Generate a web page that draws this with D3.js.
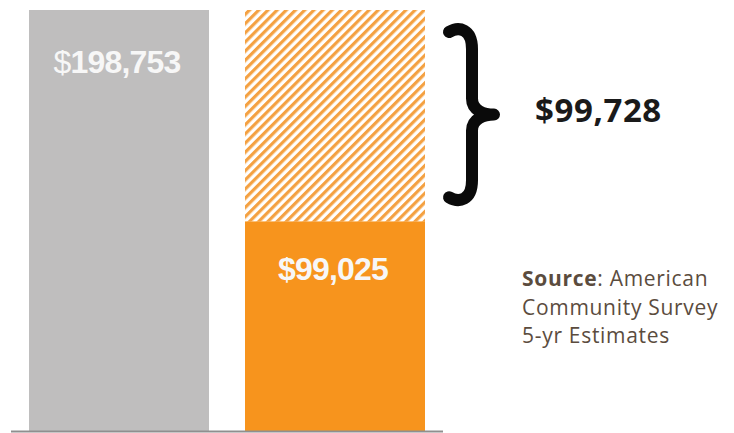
<!DOCTYPE html>
<html>
<head>
<meta charset="utf-8">
<script src="https://cdn.jsdelivr.net/npm/d3@7"></script>
<style>
  html, body { margin: 0; padding: 0; background: #fff; }
  svg { display: block; }
</style>
</head>
<body>
<svg id="chart" width="734" height="433"></svg>
<script>
// Median values, in dollars
const categories = ["Total", "Earned"];
const baseValues = [198753, 99025];
const gapValues = [0, 99728];
const valueLabels = ["198,753", "99,025"];
const gapLabel = "$99,728";
const sourceLines = [["Source", ": American"], ["", "Community Survey"], ["", "5-yr Estimates"]];

const svg = d3.select("#chart");

const x = d3.scaleBand().domain(categories).range([29, 425]).paddingInner(1 / 6).paddingOuter(0);
const y = d3.scaleLinear().domain([0, 198753]).range([431, 10]);

// diagonal hatch for the gap segment
const defs = svg.append("defs");
const pat = defs.append("pattern")
  .attr("id", "hatch")
  .attr("patternUnits", "userSpaceOnUse")
  .attr("width", 6.5).attr("height", 6.5)
  .attr("patternTransform", "rotate(45)");
pat.append("rect").attr("width", 6.5).attr("height", 6.5).attr("fill", "#fff");
pat.append("rect").attr("x", 0).attr("width", 3.2).attr("height", 6.5).attr("fill", "#f4a142");

const colors = ["#bfbebe", "#f7941d"];

// solid bars
svg.append("g").selectAll("rect")
  .data(categories)
  .join("rect")
  .attr("x", d => x(d))
  .attr("width", x.bandwidth())
  .attr("y", (d, i) => y(baseValues[i]))
  .attr("height", (d, i) => y(0) - y(baseValues[i]))
  .attr("fill", (d, i) => colors[i]);

// hatched gap segment stacked on top
svg.append("g").selectAll("rect")
  .data(categories.filter((d, i) => gapValues[i] > 0))
  .join("rect")
  .attr("x", d => x(d))
  .attr("width", x.bandwidth())
  .attr("y", d => { const i = categories.indexOf(d); return y(baseValues[i] + gapValues[i]); })
  .attr("height", d => { const i = categories.indexOf(d); return y(baseValues[i]) - y(baseValues[i] + gapValues[i]); })
  .attr("fill", "url(#hatch)");

// baseline
svg.append("line")
  .attr("x1", 11).attr("x2", 443)
  .attr("y1", y(0) + 0.5).attr("y2", y(0) + 0.5)
  .attr("stroke", "#8f8f8f").attr("stroke-width", 2);

// value labels inside bars
const labelY = [73, 280];
const dollarWeight = ["normal", "bold"];
const vl = svg.append("g").selectAll("text")
  .data(categories)
  .join("text")
  .attr("x", d => x(d) + x.bandwidth() / 2 - 2)
  .attr("y", (d, i) => labelY[i])
  .attr("text-anchor", "middle")
  .attr("font-family", "Liberation Sans, Arial, sans-serif")
  .attr("font-weight", "bold")
  .attr("font-size", 32)
  .attr("letter-spacing", -0.8)
  .attr("fill", "#f7f7f7");
vl.append("tspan").attr("font-weight", (d, i) => dollarWeight[i]).text("$");
vl.append("tspan").text((d, i) => valueLabels[i]);

// curly brace spanning the gap
const gTop = y(baseValues[1] + gapValues[1]) + 19;
const gBot = y(baseValues[1]) - 21;
const gMid = (gTop + gBot) / 2;
const bx = 449, sx = 472, px = 494;
const brace = d3.path();
brace.moveTo(bx, gTop + 3);
brace.bezierCurveTo(bx + 10, gTop - 3, sx, gTop, sx, gTop + 20);
brace.lineTo(sx, gMid - 16);
brace.bezierCurveTo(sx, gMid - 4, px - 10, gMid, px, gMid);
brace.bezierCurveTo(px - 10, gMid, sx, gMid + 4, sx, gMid + 16);
brace.lineTo(sx, gBot - 20);
brace.bezierCurveTo(sx, gBot, bx + 10, gBot + 3, bx, gBot - 3);
svg.append("path")
  .attr("d", brace.toString())
  .attr("fill", "none")
  .attr("stroke", "#0a0a0a")
  .attr("stroke-width", 12)
  .attr("stroke-linecap", "round")
  .attr("stroke-linejoin", "round");

svg.append("text")
  .attr("x", 535).attr("y", 122)
  .attr("font-family", "Open Sans, sans-serif")
  .attr("font-weight", "bold")
  .attr("font-size", 33)
  .attr("letter-spacing", 0.6)
  .attr("fill", "#1a1a1a")
  .text(gapLabel);

// source note
const src = svg.append("text")
  .attr("font-family", "Open Sans, sans-serif")
  .attr("font-size", 21)
  .attr("letter-spacing", 0.7)
  .attr("fill", "#5b4c3e");
sourceLines.forEach((ln, i) => {
  const t = src.append("tspan").attr("x", 522).attr("y", 286 + i * 28.5);
  if (ln[0]) t.append("tspan").attr("font-weight", "bold").text(ln[0]);
  t.append("tspan").text(ln[1]);
});
</script>
</body>
</html>
